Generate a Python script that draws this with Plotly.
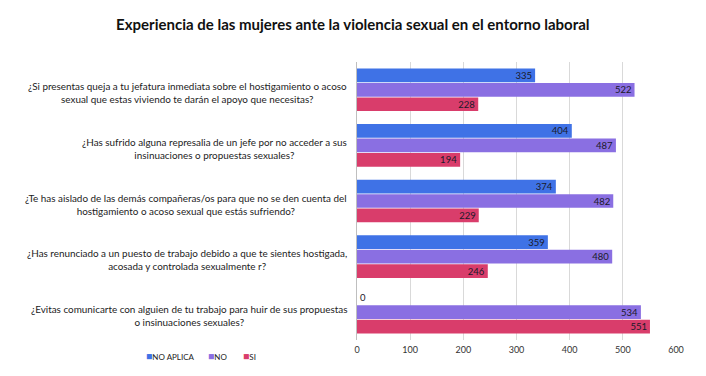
import plotly.graph_objects as go

categories = [
    "¿Si presentas queja a tu jefatura inmediata sobre el hostigamiento o acoso<br>sexual que estas viviendo te darán el apoyo que necesitas?",
    "¿Has sufrido alguna represalia de un jefe por no acceder a sus<br>insinuaciones o propuestas sexuales?",
    "¿Te has aislado de las demás compañeras/os para que no se den cuenta del<br>hostigamiento o acoso sexual que estás sufriendo?",
    "¿Has renunciado a un puesto de trabajo debido a que te sientes hostigada,<br>acosada y controlada sexualmente r?",
    "¿Evitas comunicarte con alguien de tu trabajo para huir de sus propuestas<br>o insinuaciones sexuales?",
]
no_aplica = [335, 404, 374, 359, 0]
no = [522, 487, 482, 480, 534]
si = [228, 194, 229, 246, 551]
series_names = ["NO APLICA", "NO", "SI"]
series_values = [no_aplica, no, si]
series_colors = ["#3f72e6", "#8a6fe2", "#d93d6b"]

FONT = "Lato, Liberation Sans, Arial"
fig = go.Figure()
idx = list(range(len(categories)))
for name, vals, col in zip(series_names, series_values, series_colors):
    fig.add_trace(go.Bar(
        y=idx, x=vals, name=name, orientation="h",
        marker=dict(color=col, line=dict(width=0)),
        text=[str(v) for v in vals],
        textposition=["inside" if v > 0 else "outside" for v in vals],
        insidetextanchor="end",
        constraintext="none",
        textfont=dict(size=9.5, color="#1a1a2a", family=FONT),
        cliponaxis=False,
        showlegend=False,
    ))

for i, c in enumerate(categories):
    fig.add_annotation(x=0, xref="paper", xanchor="right", xshift=-8, y=i, yref="y", yshift=-3,
                       text=c, showarrow=False, align="center",
                       font=dict(size=9.9, color="#222", family=FONT))

# legend drawn as annotations (compact, like the original)
legend_x = [-0.6675, -0.4730, -0.3635]
for name, col, lx in zip(series_names, series_colors, legend_x):
    fig.add_annotation(x=lx, xref="paper", xanchor="left", y=-0.058, yref="paper", yanchor="middle",
                       text=f"<span style='color:{col};font-size:10.5px'>■</span>{name}", showarrow=False,
                       font=dict(size=8, color="#222", family=FONT))

fig.update_layout(
    width=698, height=368,
    margin=dict(l=349, r=30, t=54, b=36, autoexpand=False),
    paper_bgcolor="white", plot_bgcolor="white",
    barmode="group", bargap=0.22, bargroupgap=0.05,
    title=dict(text="<b>Experiencia de las mujeres ante la violencia sexual en el entorno laboral</b>",
               x=0.494, xanchor="center", xref="container", y=0.955, yref="container", yanchor="middle",
               font=dict(size=15, color="#111", family=FONT)),
    xaxis=dict(range=[0, 600], dtick=100, showgrid=True, gridcolor="#d9d9d9", gridwidth=1,
               zeroline=False, showline=False, tickfont=dict(size=9, color="#333", family=FONT),
               ticks="", ticklabelstandoff=3),
    yaxis=dict(autorange="reversed", showticklabels=False, showgrid=False, zeroline=False,
               showline=True, linecolor="#bfbfbf", linewidth=1, ticks=""),
    showlegend=False,
)
fig.write_html("out.html")
